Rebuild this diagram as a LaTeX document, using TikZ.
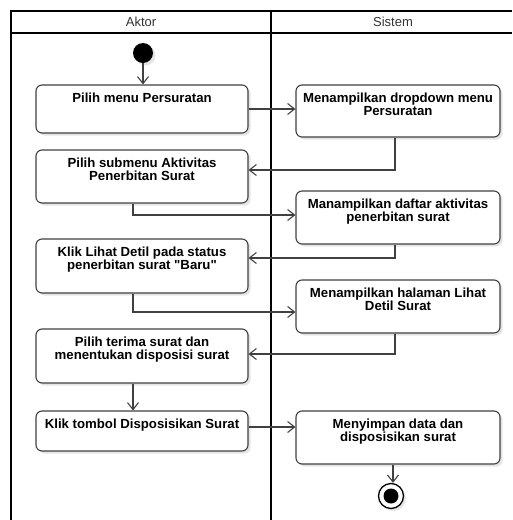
\documentclass[tikz,border=0pt]{standalone}
\usepackage{fontspec}
\setmainfont{Liberation Sans}[Ligatures=TeXOff]
\usetikzlibrary{arrows.meta,shadows}
\definecolor{edge}{HTML}{404040}
\definecolor{ink}{HTML}{333333}
% activity text: fixed-size box, lines centred and hung from the top edge
\newcommand{\acttext}[3]{\parbox[c][#2][t]{#1}{\centering\rule{0pt}{17pt}#3}}
\begin{document}
\begin{tikzpicture}[x=1pt,y=-1pt,
  shade/.style={drop shadow={shadow xshift=2.5pt,shadow yshift=-2.5pt,fill=black,opacity=0.10}},
  act/.style={draw=edge,line width=1.1pt,rounded corners=6pt,fill=white,inner sep=0pt,
    font=\fontsize{13.2}{13.5}\selectfont\bfseries,shade},
  flow/.style={draw=edge,line width=1.1pt,-{Straight Barb[length=7pt,width=11pt,line width=1.1pt]}},
  lane/.style={draw=black,line width=2pt},
  lanetitle/.style={font=\fontsize{13}{15}\selectfont,text=ink},
]
\useasboundingbox (0,0) rectangle (512,520);

% swimlanes
\draw[lane] (11,520) -- (11,11) -- (512,11);
\draw[lane] (11,32.5) -- (512,32.5);
\draw[lane] (271,11) -- (271,520);
\node[lanetitle] (aktor) at (141,21.5) {Aktor};
\node[lanetitle] (sistem) at (393,21.5) {Sistem};

% initial and final states
\node[circle,fill=black,minimum size=20pt,inner sep=0pt,shade] (start) at (143,53) {};
\node[circle,draw=black,line width=1.3pt,fill=white,minimum size=25pt,inner sep=0pt,shade] (end) at (391,496) {};
\node[circle,fill=black,minimum size=15pt,inner sep=0pt] (enddot) at (end.center) {};

% actor activities
\node[act] (b1) at (142,109)   {\acttext{212pt}{48pt}{Pilih menu Persuratan}};
\node[act] (b2) at (142,176.5) {\acttext{212pt}{53pt}{Pilih submenu Aktivitas\\Penerbitan Surat}};
\node[act] (b3) at (142,266)   {\acttext{212pt}{54pt}{Klik Lihat Detil pada status\\penerbitan surat "Baru"}};
\node[act] (b4) at (142,356)   {\acttext{212pt}{54pt}{Pilih terima surat dan\\menentukan disposisi surat}};
\node[act] (b5) at (142,431)   {\acttext{212pt}{40pt}{Klik tombol Disposisikan Surat}};

% system activities
\node[act] (s1) at (398,111)   {\acttext{204pt}{52pt}{Menampilkan dropdown menu\\Persuratan}};
\node[act] (s2) at (398,217.5) {\acttext{204pt}{53pt}{Manampilkan daftar aktivitas\\penerbitan surat}};
\node[act] (s3) at (398,306.5) {\acttext{204pt}{53pt}{Menampilkan halaman Lihat\\Detil Surat}};
\node[act] (s5) at (398,437.5) {\acttext{204pt}{53pt}{Menyimpan data dan\\disposisikan surat}};

% control flow
\draw[flow] (start.south) -- (start.south |- b1.north);
\draw[flow] (b1.east) -- (b1.east -| s1.west);
\draw[flow] (s1.south -| 395,0) |- (b2.east |- 0,170);
\draw[flow] (b2.south -| 133,0) |- (s2.west |- 0,215);
\draw[flow] (s2.south -| 395,0) |- (b3.east |- 0,258);
\draw[flow] (b3.south -| 133,0) |- (s3.west |- 0,312);
\draw[flow] (s3.south -| 395,0) |- (b4.east |- 0,354);
\draw[flow] (b4.south -| 133,0) -- (b5.north -| 133,0);
\draw[flow] (b5.east |- 0,427) -- (s5.west |- 0,427);
\draw[flow] (s5.south -| 393,0) -- (end.north -| 393,0);
\end{tikzpicture}
\end{document}
